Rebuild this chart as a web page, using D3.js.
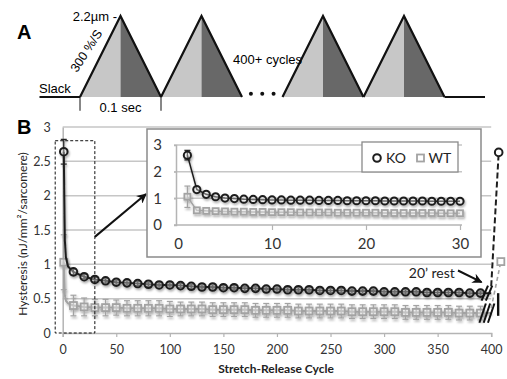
<!DOCTYPE html>
<html>
<head>
<meta charset="utf-8">
<script src="https://cdn.jsdelivr.net/npm/d3@7/dist/d3.min.js"></script>
<style>
  body { margin: 0; background: #fff; }
  svg { display: block; }
</style>
</head>
<body>
<div id="chart"></div>
<script>
// ---- panel A: stretch protocol schematic (in units of one 0.1 s cycle)
const cycleStarts = [0, 1, 2.5, 3.5];
const gapDots = [2.11, 2.25, 2.39];

// ---- panel B: main chart
const mainCycles = [1, 2, 3, 5,
  10, 20, 30, 40, 50, 60, 70, 80, 90, 100,
  110, 120, 130, 140, 150, 160, 170, 180, 190, 200,
  210, 220, 230, 240, 250, 260, 270, 280, 290, 300,
  310, 320, 330, 340, 350, 360, 370, 380, 390, 400];
const koMain = [2.64, 1.35, 1.10, 0.97,
  0.89, 0.82, 0.78, 0.76, 0.74, 0.73, 0.72, 0.71, 0.70, 0.70,
  0.69, 0.68, 0.67, 0.67, 0.66, 0.66, 0.65, 0.65, 0.64, 0.64,
  0.63, 0.63, 0.63, 0.62, 0.62, 0.62, 0.61, 0.61, 0.61, 0.60,
  0.60, 0.60, 0.60, 0.59, 0.59, 0.59, 0.59, 0.58, 0.58, 0.58];
const koMainErr = [0.18, 0.04, 0.04, 0.04,
  0.04, 0.03, 0.03, 0.03, 0.03, 0.03, 0.03, 0.03, 0.03, 0.03,
  0.03, 0.03, 0.03, 0.03, 0.03, 0.03, 0.03, 0.03, 0.03, 0.03,
  0.03, 0.03, 0.03, 0.03, 0.03, 0.03, 0.03, 0.03, 0.03, 0.03,
  0.03, 0.03, 0.03, 0.03, 0.03, 0.03, 0.03, 0.03, 0.03, 0.03];
const wtMain = [1.03, 0.55, 0.47, 0.43,
  0.40, 0.38, 0.37, 0.37, 0.37, 0.36, 0.36, 0.36, 0.36, 0.35,
  0.35, 0.35, 0.35, 0.34, 0.34, 0.34, 0.34, 0.33, 0.33, 0.33,
  0.33, 0.32, 0.32, 0.32, 0.32, 0.32, 0.31, 0.31, 0.31, 0.31,
  0.31, 0.30, 0.30, 0.30, 0.30, 0.30, 0.29, 0.29, 0.29, 0.29];
const wtMainErr = [0.40, 0.15, 0.15, 0.15,
  0.15, 0.13, 0.12, 0.12, 0.11, 0.11, 0.11, 0.11, 0.11, 0.11,
  0.10, 0.10, 0.10, 0.10, 0.10, 0.10, 0.10, 0.10, 0.10, 0.10,
  0.10, 0.10, 0.10, 0.10, 0.10, 0.10, 0.10, 0.10, 0.10, 0.10,
  0.10, 0.10, 0.10, 0.10, 0.10, 0.10, 0.10, 0.10, 0.10, 0.10];
// after 20' rest
const restCycles = [407, 409];       // KO, WT
const restValues = [2.63, 1.04];
const mainYTicks = [0, 0.5, 1, 1.5, 2, 2.5, 3];
const mainXTicks = [0, 50, 100, 150, 200, 250, 300, 350, 400];

// ---- inset: first 30 cycles
const insetCycles = [1, 2, 3, 4, 5, 6, 7, 8, 9, 10, 11, 12, 13, 14, 15,
  16, 17, 18, 19, 20, 21, 22, 23, 24, 25, 26, 27, 28, 29, 30];
const koInset = [2.62, 1.33, 1.15, 1.06, 1.01, 0.99, 0.97, 0.96, 0.95, 0.94,
  0.94, 0.93, 0.93, 0.93, 0.92, 0.92, 0.92, 0.91, 0.91, 0.91,
  0.91, 0.90, 0.90, 0.90, 0.90, 0.90, 0.89, 0.89, 0.89, 0.89];
const wtInset = [1.06, 0.55, 0.53, 0.52, 0.51, 0.50, 0.50, 0.49, 0.49, 0.48,
  0.48, 0.48, 0.47, 0.47, 0.47, 0.47, 0.46, 0.46, 0.46, 0.46,
  0.46, 0.45, 0.45, 0.45, 0.45, 0.45, 0.45, 0.44, 0.44, 0.44];
const koInsetErr = [0.18, 0, 0, 0, 0, 0, 0, 0, 0, 0, 0, 0, 0, 0, 0, 0, 0, 0, 0, 0, 0, 0, 0, 0, 0, 0, 0, 0, 0, 0];
const wtInsetErr = [0.40, 0, 0, 0, 0, 0, 0, 0, 0, 0, 0, 0, 0, 0, 0, 0, 0, 0, 0, 0, 0, 0, 0, 0, 0, 0, 0, 0, 0, 0];
const insetYTicks = [0, 1, 2, 3];
const insetXTicks = [0, 10, 20, 30];
const seriesNames = ['KO', 'WT'];

const width = 507, height = 379;
const KO_COLOR = '#1e1e1e', WT_COLOR = '#a3a3a3', GRID = '#c6c6c6';
const chartFont = 'Lato, "Open Sans", sans-serif';
const schemeFont = '"Liberation Sans", Arial, sans-serif';

const svg = d3.select('#chart').append('svg')
  .attr('width', width).attr('height', height);

const defs = svg.append('defs');
defs.append('filter').attr('id', 'shadow')
  .attr('x', '-20%').attr('y', '-20%').attr('width', '140%').attr('height', '140%')
  .append('feDropShadow')
  .attr('dx', 1).attr('dy', 1.8).attr('stdDeviation', 1.2)
  .attr('flood-color', '#000').attr('flood-opacity', 0.35);
defs.append('marker').attr('id', 'arrow')
  .attr('viewBox', '0 0 10 10').attr('refX', 9).attr('refY', 5)
  .attr('markerWidth', 5).attr('markerHeight', 5).attr('orient', 'auto')
  .append('path').attr('d', 'M0,0 L10,5 L0,10 L3,5 Z').attr('fill', '#111');

// ================= panel A =================
const tA = d3.scaleLinear().domain([0, 1]).range([80, 161]);
const lA = d3.scaleLinear().domain([0, 1]).range([97, 16]);
const gA = svg.append('g');

gA.append('text').text('A').attr('x', 17).attr('y', 39)
  .attr('font-family', schemeFont).attr('font-weight', 'bold').attr('font-size', 20);

cycleStarts.forEach(s => {
  gA.append('path')
    .attr('d', d3.line()([[tA(s), lA(0)], [tA(s + 0.5), lA(1)], [tA(s + 0.5), lA(0)]]) + 'Z')
    .attr('fill', '#c7c7c7');
  gA.append('path')
    .attr('d', d3.line()([[tA(s + 0.5), lA(0)], [tA(s + 0.5), lA(1)], [tA(s + 1), lA(0)]]) + 'Z')
    .attr('fill', '#686868');
  gA.append('path')
    .attr('d', d3.line()([[tA(s), lA(0)], [tA(s + 0.5), lA(1)], [tA(s + 1), lA(0)]]))
    .attr('fill', 'none').attr('stroke', '#111').attr('stroke-width', 2.2)
    .attr('stroke-linejoin', 'miter');
});
// slack segments before and after
[[-0.5, 0], [4.5, 5.0]].forEach(seg => {
  gA.append('line')
    .attr('x1', tA(seg[0])).attr('x2', tA(seg[1]))
    .attr('y1', lA(0)).attr('y2', lA(0))
    .attr('stroke', '#111').attr('stroke-width', 2.2);
});
gA.selectAll('.dot').data(gapDots).enter().append('circle')
  .attr('cx', d => tA(d)).attr('cy', lA(0.04)).attr('r', 2).attr('fill', '#111');
// 0.1 sec markers
[0, 1].forEach(t => {
  gA.append('line').attr('x1', tA(t)).attr('x2', tA(t))
    .attr('y1', lA(0)).attr('y2', lA(-0.17))
    .attr('stroke', '#111').attr('stroke-width', 1);
});
gA.append('text').text('0.1 sec').attr('x', tA(0.5)).attr('y', 112)
  .attr('text-anchor', 'middle')
  .attr('font-family', schemeFont).attr('font-size', 13);
gA.append('text').text('Slack').attr('x', 39).attr('y', 93)
  .attr('font-family', schemeFont).attr('font-size', 13);
gA.append('text').text('2.2\u00b5m -').attr('x', 117).attr('y', 21)
  .attr('text-anchor', 'end')
  .attr('font-family', schemeFont).attr('font-size', 13);
gA.append('text').text('300 %/S')
  .attr('transform', 'translate(77,73) rotate(-57)')
  .attr('font-family', schemeFont).attr('font-size', 12.5);
gA.append('text').text('400+ cycles').attr('x', 233).attr('y', 64)
  .attr('font-family', schemeFont).attr('font-size', 13);

// ================= panel B main chart =================
const x = d3.scaleLinear().domain([0, 400]).range([62.7, 491.2]);
const y = d3.scaleLinear().domain([0, 3]).range([333, 127]);

svg.append('text').text('B').attr('x', 17).attr('y', 134)
  .attr('font-family', schemeFont).attr('font-weight', 'bold').attr('font-size', 20);

svg.append('g').selectAll('line').data(mainYTicks.filter(d => d > 0)).enter().append('line')
  .attr('x1', x(0)).attr('x2', x(400))
  .attr('y1', d => y(d)).attr('y2', d => y(d))
  .attr('stroke', GRID).attr('stroke-width', 1.5);

const yAxis = svg.append('g').attr('transform', `translate(${x(0)},0)`)
  .call(d3.axisLeft(y).tickValues(mainYTicks).tickFormat(d3.format('~g')).tickSize(0).tickPadding(12));
const xAxis = svg.append('g').attr('transform', `translate(0,${y(0)})`)
  .call(d3.axisBottom(x).tickValues(mainXTicks).tickSize(4).tickPadding(8));
[yAxis, xAxis].forEach(a => {
  a.select('.domain').attr('stroke', '#b4b4b4').attr('stroke-width', 1.5);
  a.selectAll('.tick line').attr('stroke', '#b4b4b4').attr('stroke-width', 1.2);
  a.selectAll('text').attr('font-family', chartFont).attr('font-size', 12.5).attr('fill', '#333');
});

svg.append('text').text('Stretch-Release Cycle')
  .attr('x', 276).attr('y', 373).attr('text-anchor', 'middle')
  .attr('font-family', chartFont).attr('font-weight', 'bold').attr('font-size', 12).attr('fill', '#222');
svg.append('text').text('Hysteresis (nJ/mm\u00b2/sarcomere)')
  .attr('transform', 'translate(27,234) rotate(-90)').attr('text-anchor', 'middle')
  .attr('font-family', chartFont).attr('font-size', 12).attr('fill', '#222');

const mainKO = mainCycles.map((c, i) => ({c, v: koMain[i], e: koMainErr[i]}));
const mainWT = mainCycles.map((c, i) => ({c, v: wtMain[i], e: wtMainErr[i]}));
const hasMarker = d => d.c === 1 || (d.c % 10 === 0 && d.c < 400);

function drawSeries(g, data, xs, ys, color, shape, size, lineW) {
  const grp = g.append('g').attr('filter', 'url(#shadow)');
  grp.append('path').datum(data)
    .attr('d', d3.line().x(d => xs(d.c)).y(d => ys(d.v)))
    .attr('fill', 'none').attr('stroke', color).attr('stroke-width', lineW);
  const pts = data.filter(d => d.e !== undefined);
  const eb = grp.selectAll('.eb').data(pts.filter(d => d.e > 0)).enter().append('g');
  eb.append('line').attr('x1', d => xs(d.c)).attr('x2', d => xs(d.c))
    .attr('y1', d => ys(d.v - d.e)).attr('y2', d => ys(d.v + d.e))
    .attr('stroke', color).attr('stroke-width', 1.2);
  [-1, 1].forEach(sg => {
    eb.append('line').attr('x1', d => xs(d.c) - 3).attr('x2', d => xs(d.c) + 3)
      .attr('y1', d => ys(d.v + sg * d.e)).attr('y2', d => ys(d.v + sg * d.e))
      .attr('stroke', color).attr('stroke-width', 1.2);
  });
  if (shape === 'circle') {
    grp.selectAll('.mk').data(pts).enter().append('circle')
      .attr('cx', d => xs(d.c)).attr('cy', d => ys(d.v)).attr('r', size)
      .attr('fill', 'rgba(255,255,255,0.35)').attr('stroke', color).attr('stroke-width', 2);
  } else {
    grp.selectAll('.mk').data(pts).enter().append('rect')
      .attr('x', d => xs(d.c) - size).attr('y', d => ys(d.v) - size)
      .attr('width', size * 2).attr('height', size * 2)
      .attr('fill', 'rgba(255,255,255,0.35)').attr('stroke', color).attr('stroke-width', 1.8);
  }
  return grp;
}

// main series: line through all points, markers on sampled cycles
const mainG = svg.append('g');
drawSeries(mainG, mainWT.map(d => hasMarker(d) ? d : {c: d.c, v: d.v}), x, y, WT_COLOR, 'rect', 3.5, 2);
drawSeries(mainG, mainKO.map(d => hasMarker(d) ? d : {c: d.c, v: d.v}), x, y, KO_COLOR, 'circle', 3.8, 2);

// break marks and 20' rest
const last = mainCycles.length - 1;
const breakG = svg.append('g').attr('stroke-width', 2).attr('fill', 'none');
[391, 395].forEach(c => breakG.append('line')
  .attr('x1', x(c)).attr('y1', y(koMain[last] - 0.11))
  .attr('x2', x(c + 6)).attr('y2', y(koMain[last] + 0.11)).attr('stroke', '#111'));
[389, 393, 397].forEach(c => breakG.append('line')
  .attr('x1', x(c)).attr('y1', y(wtMain[last] - 0.14))
  .attr('x2', x(c + 6)).attr('y2', y(wtMain[last] + 0.14)).attr('stroke', '#111'));
breakG.append('line')
  .attr('x1', x(406.5)).attr('x2', x(406.5))
  .attr('y1', y(koMain[last])).attr('y2', y(wtMain[last] - 0.04))
  .attr('stroke', '#111').attr('stroke-width', 2.4);

svg.append('line')
  .attr('x1', x(400)).attr('y1', y(koMain[last] + 0.1))
  .attr('x2', x(restCycles[0])).attr('y2', y(restValues[0]))
  .attr('stroke', KO_COLOR).attr('stroke-width', 2).attr('stroke-dasharray', '6,3');
svg.append('line')
  .attr('x1', x(400)).attr('y1', y(wtMain[last] + 0.07))
  .attr('x2', x(restCycles[1])).attr('y2', y(restValues[1]))
  .attr('stroke', WT_COLOR).attr('stroke-width', 1.6).attr('stroke-dasharray', '4,3');
svg.append('circle').attr('cx', x(restCycles[0])).attr('cy', y(restValues[0])).attr('r', 3.8)
  .attr('fill', '#fff').attr('stroke', KO_COLOR).attr('stroke-width', 2);
svg.append('rect').attr('x', x(restCycles[1]) - 3.5).attr('y', y(restValues[1]) - 3.5)
  .attr('width', 7).attr('height', 7)
  .attr('fill', '#fff').attr('stroke', WT_COLOR).attr('stroke-width', 1.8);

svg.append('text').text('20\u2019 rest').attr('x', x(366)).attr('y', y(0.8))
  .attr('text-anchor', 'end')
  .attr('font-family', chartFont).attr('font-size', 14).attr('fill', '#222');
svg.append('line')
  .attr('x1', x(369)).attr('y1', y(0.91)).attr('x2', x(391)).attr('y2', y(0.74))
  .attr('stroke', '#111').attr('stroke-width', 2).attr('marker-end', 'url(#arrow)');

// dashed box round the first 30 cycles
svg.append('rect')
  .attr('x', x(-7)).attr('y', y(2.8))
  .attr('width', x(30) - x(-7)).attr('height', y(0) - y(2.8))
  .attr('fill', 'none').attr('stroke', '#111').attr('stroke-width', 1)
  .attr('stroke-dasharray', '3,2');

// ================= inset =================
const frame = {x0: 147, y0: 129, x1: 481, y1: 257};
const ix = d3.scaleLinear().domain([0, 30]).range([178, 460]);
const iy = d3.scaleLinear().domain([0, 3]).range([225, 145]);

svg.append('line')
  .attr('x1', x(30)).attr('y1', y(1.4)).attr('x2', frame.x0 - 1).attr('y2', iy(1.16))
  .attr('stroke', '#111').attr('stroke-width', 2).attr('marker-end', 'url(#arrow)');

const inset = svg.append('g');
inset.append('rect')
  .attr('x', frame.x0).attr('y', frame.y0)
  .attr('width', frame.x1 - frame.x0).attr('height', frame.y1 - frame.y0)
  .attr('fill', '#fff').attr('stroke', '#8a8a8a').attr('stroke-width', 1.5);

inset.append('g').selectAll('line').data(insetYTicks.filter(d => d > 0)).enter().append('line')
  .attr('x1', ix(0) - 4).attr('x2', ix(30) + 2)
  .attr('y1', d => iy(d)).attr('y2', d => iy(d))
  .attr('stroke', GRID).attr('stroke-width', 1.5);
const iyAxis = inset.append('g').attr('transform', `translate(${ix(0) - 2},0)`)
  .call(d3.axisLeft(iy).tickValues(insetYTicks).tickFormat(d3.format('~g')).tickSize(2).tickPadding(12));
const ixAxis = inset.append('g').attr('transform', `translate(0,${iy(0)})`)
  .call(d3.axisBottom(ix).tickValues(insetXTicks).tickSize(5).tickPadding(8));
ixAxis.select('.domain').attr('d', `M${ix(0) - 4},0H${ix(30) + 2}`);
[iyAxis, ixAxis].forEach(a => {
  a.select('.domain').attr('stroke', '#b4b4b4').attr('stroke-width', 1.5);
  a.selectAll('.tick line').attr('stroke', '#b4b4b4').attr('stroke-width', 1.2);
  a.selectAll('text').attr('font-family', chartFont).attr('font-size', 15).attr('fill', '#333');
});
ixAxis.selectAll('.tick').filter(d => d === 0).select('line').remove();

const inKO = insetCycles.map((c, i) => ({c, v: koInset[i], e: koInsetErr[i]}));
const inWT = insetCycles.map((c, i) => ({c, v: wtInset[i], e: wtInsetErr[i]}));
drawSeries(inset, inWT, ix, iy, WT_COLOR, 'rect', 3, 1.5);
drawSeries(inset, inKO, ix, iy, KO_COLOR, 'circle', 3.6, 1.5);

// legend
const lg = inset.append('g');
lg.append('rect').attr('x', 362).attr('y', 142).attr('width', 96).attr('height', 30)
  .attr('fill', '#fff').attr('stroke', '#8a8a8a').attr('stroke-width', 1.3);
lg.append('circle').attr('cx', 377).attr('cy', 158).attr('r', 3.8)
  .attr('fill', '#fff').attr('stroke', KO_COLOR).attr('stroke-width', 2);
lg.append('text').text(seriesNames[0]).attr('x', 386).attr('y', 163)
  .attr('font-family', chartFont).attr('font-size', 14).attr('fill', '#222');
lg.append('rect').attr('x', 417).attr('y', 154.5).attr('width', 7).attr('height', 7)
  .attr('fill', '#fff').attr('stroke', WT_COLOR).attr('stroke-width', 1.8);
lg.append('text').text(seriesNames[1]).attr('x', 428.5).attr('y', 163)
  .attr('font-family', chartFont).attr('font-size', 14).attr('fill', '#222');
</script>
</body>
</html>
